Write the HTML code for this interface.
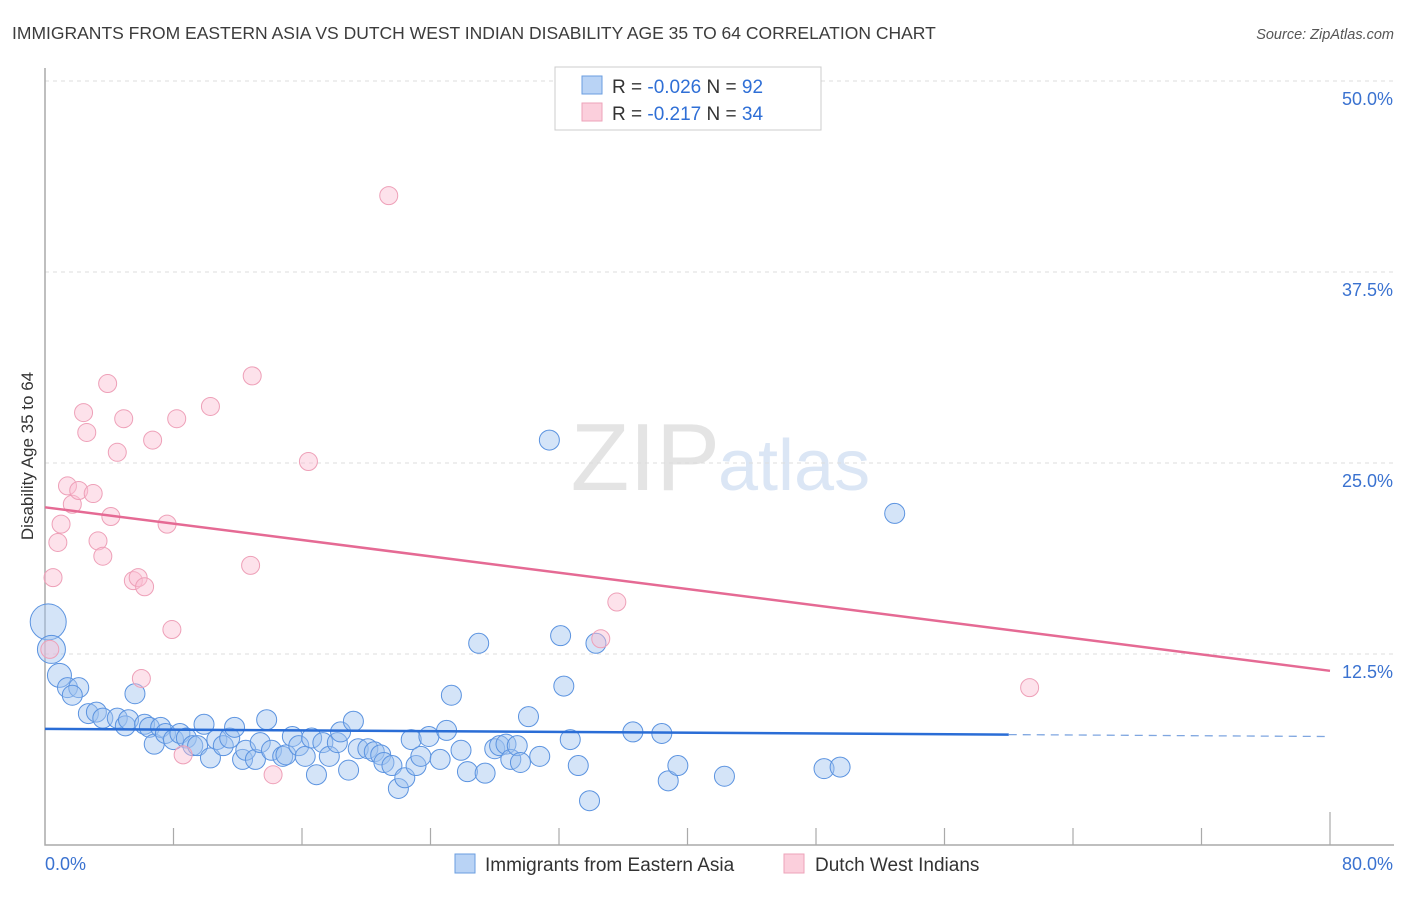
<!DOCTYPE html>
<html><head><meta charset="utf-8"><style>
body{margin:0;background:#fff;font-family:"Liberation Sans",sans-serif;}
svg text{font-family:"Liberation Sans",sans-serif;}
</style></head><body>
<svg id="chart" width="1406" height="892" viewBox="0 0 1406 892" xmlns="http://www.w3.org/2000/svg">
<text x="12" y="39" font-size="17.5" fill="#3c3c3c">IMMIGRANTS FROM EASTERN ASIA VS DUTCH WEST INDIAN DISABILITY AGE 35 TO 64 CORRELATION CHART</text>
<text x="1394" y="39" font-size="14.5" font-style="italic" fill="#555" text-anchor="end">Source: ZipAtlas.com</text>
<text x="720" y="490" font-size="96" font-family="Liberation Serif" fill="#e4e4e4" text-anchor="end">ZIP</text>
<text x="718" y="490" font-size="72" fill="#dbe6f5">atlas</text>
<g id="grid"></g>
<g id="axes"></g>
<g id="pts"></g>
<g id="trend"></g>
<text transform="translate(33,456) rotate(-90)" font-size="17" fill="#333" text-anchor="middle">Disability Age 35 to 64</text>
<g>
<rect x="555" y="67" width="266" height="63" fill="#fff" stroke="#ccc"/>
<rect x="582" y="76" width="20" height="18" fill="#b9d3f5" stroke="#6a9ee0"/>
<rect x="582" y="103" width="20" height="18" fill="#fbcfdc" stroke="#eea3ba"/>
<text x="612" y="93" font-size="19" fill="#333">R = <tspan fill="#2f6fd6">-0.026</tspan>   N = <tspan fill="#2f6fd6">92</tspan></text>
<text x="612" y="120" font-size="19" fill="#333">R =  <tspan fill="#2f6fd6">-0.217</tspan>   N = <tspan fill="#2f6fd6">34</tspan></text>
</g>
<g>
<rect x="455" y="854" width="20" height="19" fill="#b9d3f5" stroke="#6a9ee0"/>
<text x="485" y="871" font-size="19" fill="#333">Immigrants from Eastern Asia</text>
<rect x="784" y="854" width="20" height="19" fill="#fbcfdc" stroke="#eea3ba"/>
<text x="815" y="871" font-size="19" fill="#333">Dutch West Indians</text>
</g>
</svg>
<script>
const blueX=[0.2,0.4,0.9,1.4,2.1,1.7,2.7,3.2,3.6,4.5,5.0,5.2,5.6,6.2,6.5,6.8,7.2,7.5,8.0,8.4,8.8,9.2,9.5,9.9,10.3,10.7,11.1,11.5,11.8,12.3,12.5,13.1,13.4,13.8,14.1,14.8,15.0,15.4,15.8,16.2,16.6,16.9,17.3,17.7,18.2,18.4,18.9,19.2,19.5,20.1,20.5,20.9,21.1,21.6,22.0,22.4,22.8,23.1,23.4,23.9,24.6,25.0,25.3,25.9,26.3,27.0,27.4,28.0,28.3,28.7,29.0,29.4,29.6,30.1,30.8,31.4,32.1,32.3,32.7,33.2,33.9,34.3,36.6,38.4,38.8,39.4,42.3,48.5,49.5,52.9];
const blueY=[14.6,12.8,11.1,10.3,10.3,9.8,8.6,8.7,8.3,8.3,7.8,8.2,9.9,7.9,7.7,6.6,7.7,7.3,6.9,7.3,7.0,6.5,6.5,7.9,5.7,6.9,6.5,7.0,7.7,5.6,6.2,5.6,6.7,8.2,6.2,5.8,5.9,7.1,6.5,5.8,7.0,4.6,6.7,5.8,6.7,7.4,4.9,8.1,6.3,6.3,6.1,5.9,5.4,5.2,3.7,4.4,6.9,5.2,5.8,7.1,5.6,7.5,9.8,6.2,4.8,13.2,4.7,6.3,6.5,6.6,5.6,6.5,5.4,8.4,5.8,26.5,13.7,10.4,6.9,5.2,2.9,13.2,7.4,7.3,4.2,5.2,4.5,5.0,5.1,21.7];
const blueR=[18,14,12,10,10,10,10,10,10,10,10,10,10,10,10,10,10,10,10,10,10,10,10,10,10,10,10,10,10,10,10,10,10,10,10,10,10,10,10,10,10,10,10,10,10,10,10,10,10,10,10,10,10,10,10,10,10,10,10,10,10,10,10,10,10,10,10,10,10,10,10,10,10,10,10,10,10,10,10,10,10,10,10,10,10,10,10,10,10,10];
const pinkX=[0.3,0.5,0.8,1.0,1.4,1.7,2.1,2.4,2.6,3.0,3.3,3.6,3.9,4.1,4.5,4.9,5.5,5.8,6.2,6.0,6.7,7.6,7.9,8.2,8.6,10.3,12.8,12.9,14.2,16.4,21.4,34.6,35.6,61.3];
const pinkY=[12.8,17.5,19.8,21.0,23.5,22.3,23.2,28.3,27.0,23.0,19.9,18.9,30.2,21.5,25.7,27.9,17.3,17.5,16.9,10.9,26.5,21.0,14.1,27.9,5.9,28.7,18.3,30.7,4.6,25.1,42.5,13.5,15.9,10.3];
const yTicks=[12.5,25.0,37.5,50.0];
const xTickVals=[0,8,16,24,32,40,48,56,64,72,80];
const pinkTrend=[22.1,11.4];
const blueTrend=[7.6,7.1];
const X=v=>45+v/80*1285;
const Y=v=>845-v*15.28;
const NS="http://www.w3.org/2000/svg";
function mk(p,tag,a){const e=document.createElementNS(NS,tag);for(const k in a)e.setAttribute(k,a[k]);p.appendChild(e);return e;}
const grid=document.getElementById('grid'),axes=document.getElementById('axes'),pts=document.getElementById('pts'),tr=document.getElementById('trend');
yTicks.forEach(v=>{
 const l=mk(grid,'line',{x1:45,x2:1394,y1:Y(v),y2:Y(v),stroke:'#ddd','stroke-dasharray':'4,4'});
 
 
 const t=mk(grid,'text',{x:1393,y:Y(v)+24,'font-size':18,fill:'#3a72d0','text-anchor':'end'});
 t.textContent=v.toFixed(1)+'%';
 
 
});
const ax=mk(axes,'path',{d:'M45,68V845H1394',fill:'none',stroke:'#aaa','stroke-width':1.5});


xTickVals.forEach((v,i)=>{
 if(i===0)return;
 const tk=mk(axes,'line',{x1:X(v),x2:X(v),y1:i===xTickVals.length-1?812:828,y2:845,stroke:'#aaa','stroke-width':1.2});
 
 
});
[[0,'start',45],[80,'end',1393]].forEach(([v,a,x])=>{
 const t=mk(axes,'text',{x:x,y:870,'font-size':18,fill:'#3a72d0','text-anchor':a});
 t.textContent=v.toFixed(1)+'%';
 
 
});
blueX.forEach((v,i)=>{
 const c=mk(pts,'circle',{cx:X(v),cy:Y(blueY[i]),r:blueR[i]||10,fill:'rgba(160,195,240,0.45)',stroke:'#5b93e0','stroke-width':1});
 
 
});
pinkX.forEach((v,i)=>{
 const c=mk(pts,'circle',{cx:X(v),cy:Y(pinkY[i]),r:9,fill:'rgba(250,190,210,0.45)',stroke:'#eea0b8','stroke-width':1});
 
 
});
const pl=mk(tr,'line',{x1:X(0),y1:Y(pinkTrend[0]),x2:X(80),y2:Y(pinkTrend[1]),stroke:'#e56a94','stroke-width':2.5});


const bm=blueTrend[0]+(blueTrend[1]-blueTrend[0])*(60/80);
const bl=mk(tr,'line',{x1:X(0),y1:Y(blueTrend[0]),x2:X(60),y2:Y(bm),stroke:'#2a6dd6','stroke-width':2.5});


const bd=mk(tr,'line',{x1:X(60),y1:Y(bm),x2:X(80),y2:Y(blueTrend[1]),stroke:'#7fa6e0','stroke-width':1.3,'stroke-dasharray':'8,6'});


</script>
</body></html>
